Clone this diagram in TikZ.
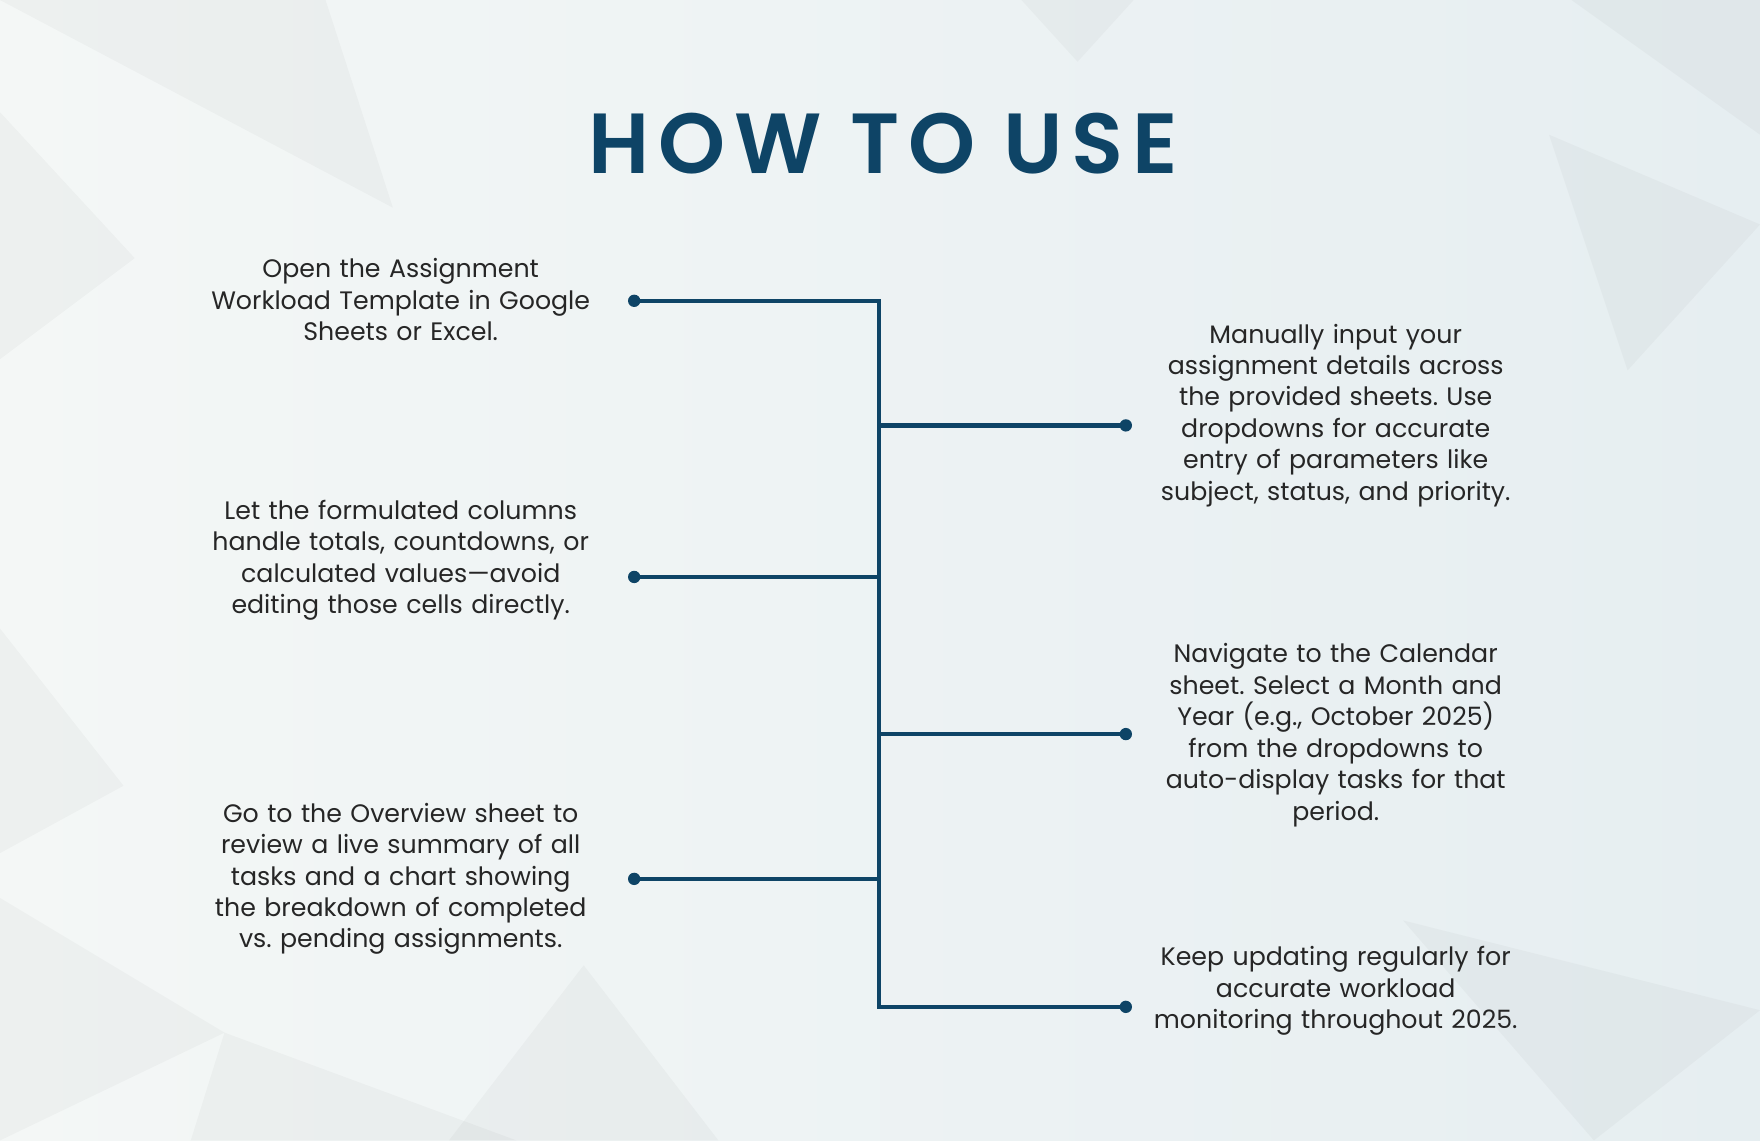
\documentclass[tikz,border=0pt]{standalone}
\usepackage{fontspec}
\setmainfont{Poppins}
\newfontfamily\titlefont[LetterSpace=10]{Poppins SemiBold}
\frenchspacing
\definecolor{navy}{HTML}{0E4466}
\definecolor{bgA}{HTML}{F4F7F6}
\definecolor{bgB}{HTML}{E6EEF1}
\tikzset{
  conn/.style={draw=navy, line width=3.8pt},
  dot/.style={circle, fill=navy, inner sep=0pt, minimum size=11pt},
  txt/.style={align=center, text=black!85, font=\fontsize{22.5}{28}\selectfont, text width=380pt},
  tri/.style={fill=gray, fill opacity=0.06, draw=none}
}
\begin{document}
\begin{tikzpicture}[x=1pt,y=-1pt]
\useasboundingbox (0,0) rectangle (1568,1016);
\shade[left color=bgA, right color=bgB] (0,0) rectangle (1568,1016);
\fill[tri] (0,0) -- (290,0) -- (350,185) -- cycle;
\fill[tri] (0,100) -- (120,230) -- (0,320) -- cycle;
\fill[tri] (1400,0) -- (1568,0) -- (1568,120) -- cycle;
\fill[tri] (910,0) -- (1010,0) -- (960,55) -- cycle;
\fill[tri] (0,800) -- (200,920) -- (0,1016) -- cycle;
\fill[tri] (200,920) -- (460,1016) -- (170,1016) -- cycle;
\fill[tri] (1250,820) -- (1568,900) -- (1420,1016) -- cycle;
\fill[tri] (520,860) -- (640,1016) -- (400,1016) -- cycle;
\fill[tri] (1380,120) -- (1568,200) -- (1450,330) -- cycle;
\fill[tri] (0,560) -- (110,700) -- (0,760) -- cycle;

\node[font=\fontsize{76}{80}\titlefont, text=navy] (title) at (787,128) {HOW TO USE};

\coordinate (top) at (783,268);
\coordinate (bot) at (783,897);
\coordinate (j1) at (783,514);
\coordinate (j2) at (783,783);
\coordinate (r1) at (783,379);
\coordinate (r2) at (783,654);
\node[dot] (d1) at (565,268) {};
\node[dot] (d2) at (565,514) {};
\node[dot] (d3) at (565,783) {};
\node[dot] (e1) at (1003,379) {};
\node[dot] (e2) at (1003,654) {};
\node[dot] (e3) at (1003,897) {};
\draw[conn] (d1.center) -- (top) -- (bot) -- (e3.center);
\draw[conn] (d2.center) -- (j1);
\draw[conn] (d3.center) -- (j2);
\draw[conn] (r1) -- (e1.center);
\draw[conn] (r2) -- (e2.center);

\node[txt] (t1) at (357,267) {Open the Assignment\\Workload Template in Google\\Sheets or Excel.};
\node[txt] (t2) at (357,499) {Let the formulated columns\\handle totals, countdowns, or\\calculated values—avoid\\editing those cells directly.};
\node[txt] (t3) at (357,783) {Go to the Overview sheet to\\review a live summary of all\\tasks and a chart showing\\the breakdown of completed\\vs. pending assignments.};
\node[txt] (t4) at (1190,370) {Manually input your\\assignment details across\\the provided sheets. Use\\dropdowns for accurate\\entry of parameters like\\subject, status, and priority.};
\node[txt] (t5) at (1190,655) {Navigate to the Calendar\\sheet. Select a Month and\\Year (e.g., October 2025)\\from the dropdowns to\\auto-display tasks for that\\period.};
\node[txt] (t6) at (1190,883) {Keep updating regularly for\\accurate workload\\monitoring throughout 2025.};
\end{tikzpicture}
\end{document}
